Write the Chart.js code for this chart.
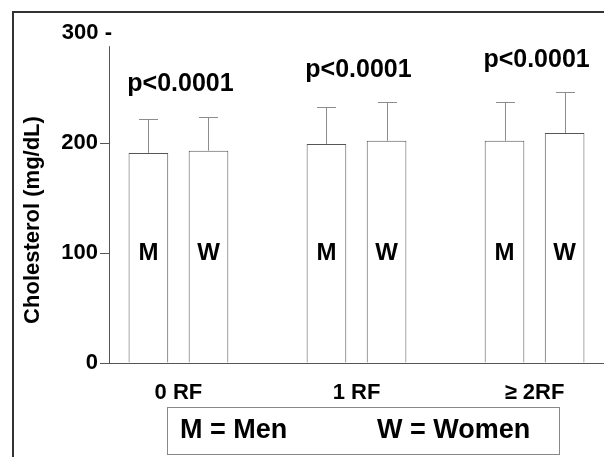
<!DOCTYPE html>
<html>
<head>
<meta charset="utf-8">
<script src="https://cdn.jsdelivr.net/npm/chart.js@4.4.0/dist/chart.umd.min.js"></script>
<style>
  html, body { margin: 0; padding: 0; background: #fff; }
</style>
</head>
<body>
<canvas id="chart" width="604" height="457"></canvas>
<script>
// Data
const categories = ["0 RF", "1 RF", "\u2265 2RF"];
const menMean = [191, 199, 202];
const womenMean = [193, 202, 209];
const menSD = [31, 34, 35];
const womenSD = [31, 35, 37];
const pLabels = ["p<0.0001", "p<0.0001", "p<0.0001"];
const barLetters = ["M", "W"];
const legendText = ["M = Men", "W = Women"];

const FONT = "'Liberation Sans', Arial, sans-serif";

// Extra drawing: frame, error bars, letters, p-values, legend box
const annot = {
  id: "annot",
  beforeDraw(chart) {
    const c = chart.ctx;
    c.save();
    c.fillStyle = "#fff";
    c.fillRect(0, 0, chart.width, chart.height);
    c.strokeStyle = "#333";
    c.lineWidth = 2;
    c.beginPath();
    c.moveTo(13, chart.height);
    c.lineTo(13, 12);
    c.lineTo(chart.width, 12);
    c.stroke();
    c.restore();
  },
  afterDatasetsDraw(chart) {
    const c = chart.ctx;
    const y = chart.scales.y;
    const x = chart.scales.x;
    c.save();

    // y axis line (stops short of the 300 label)
    const ax = Math.round(x.left) + 0.5;
    c.strokeStyle = "#555";
    c.lineWidth = 1;
    c.beginPath();
    c.moveTo(ax, y.getPixelForValue(0));
    c.lineTo(ax, y.getPixelForValue(288));
    c.stroke();

    // error bars + M / W letters
    [menSD, womenSD].forEach((sd, d) => {
      const meta = chart.getDatasetMeta(d);
      meta.data.forEach((bar, i) => {
        const bx = Math.round(bar.x) + 0.5;
        const top = Math.round(y.getPixelForValue(chart.data.datasets[d].data[i].y + sd[i])) + 0.5;
        c.strokeStyle = "#8c8c8c";
        c.lineWidth = 1;
        c.beginPath();
        c.moveTo(bx, bar.y);
        c.lineTo(bx, top);
        c.moveTo(bx - 9.5, top);
        c.lineTo(bx + 9.5, top);
        c.stroke();

        c.fillStyle = "#000";
        c.font = "bold 24px " + FONT;
        c.textAlign = "center";
        c.textBaseline = "middle";
        c.fillText(barLetters[d], bar.x, y.getPixelForValue(100));
      });
    });

    // p-value labels above each group
    c.font = "bold 25px " + FONT;
    c.textAlign = "center";
    c.textBaseline = "middle";
    categories.forEach((cat, i) => {
      const top = Math.max(menMean[i] + menSD[i], womenMean[i] + womenSD[i]);
      c.fillText(pLabels[i], x.getPixelForValue(i) + 2, y.getPixelForValue(top) - 32);
    });

    // top tick label
    c.font = "bold 22px " + FONT;
    c.textAlign = "right";
    c.fillText("300 -", x.left + 3, y.getPixelForValue(300));

    // y axis title
    c.save();
    c.translate(33, 220);
    c.rotate(-Math.PI / 2);
    c.font = "bold 22px " + FONT;
    c.textAlign = "center";
    c.fillText("Cholesterol (mg/dL)", 0, 0);
    c.restore();

    // legend box
    c.strokeStyle = "#888";
    c.lineWidth = 1;
    c.strokeRect(167.5, 407.5, 392, 47);
    c.font = "bold 27px " + FONT;
    c.textAlign = "left";
    c.fillText(legendText[0], 180, 431);
    c.fillText(legendText[1], 377, 431);

    c.restore();
  }
};

let ctx = document.getElementById("chart").getContext("2d");

let chart = new Chart(ctx, {
  type: "bar",
  data: {
    datasets: [
      {
        label: "Men",
        data: menMean.map((v, i) => ({ x: i, y: v })),
        backgroundColor: "#fff",
        borderColor: "#555",
        borderWidth: 1,
      },
      {
        label: "Women",
        data: womenMean.map((v, i) => ({ x: i, y: v })),
        backgroundColor: "#fff",
        borderColor: "#555",
        borderWidth: 1,
      },
    ],
  },
  options: {
    responsive: false,
    animation: false,
    devicePixelRatio: 1,
    categoryPercentage: 0.675,
    barPercentage: 0.66,
    layout: { padding: { top: 33, right: 0, left: 0, bottom: 0 } },
    plugins: {
      legend: { display: false },
      tooltip: { enabled: false },
    },
    scales: {
      x: {
        type: "linear",
        offset: false,
        min: -0.39,
        max: 2.39,
        afterBuildTicks: (s) => {
          s.ticks = categories.map((_, i) => ({ value: i }));
        },
        afterFit: (s) => { s.height = 94; },
        grid: { display: false },
        border: { display: true, color: "#555", width: 1 },
        ticks: {
          padding: 9,
          color: "#000",
          font: { family: FONT, size: 22, weight: "bold" },
          callback: (v) => categories[Math.round(v)],
        },
      },
      y: {
        min: 0,
        max: 300,
        afterFit: (s) => { s.width = 109; },
        grid: {
          drawOnChartArea: false,
          tickLength: 9,
          tickColor: (c) => (c.tick && c.tick.value === 300 ? "rgba(0,0,0,0)" : "#555"),
        },
        border: { display: false },
        ticks: {
          stepSize: 100,
          padding: 2,
          color: "#000",
          font: { family: FONT, size: 22, weight: "bold" },
          callback: (v) => (v === 300 ? "" : v),
        },
      },
    },
  },
  plugins: [annot],
});
</script>
</body>
</html>
